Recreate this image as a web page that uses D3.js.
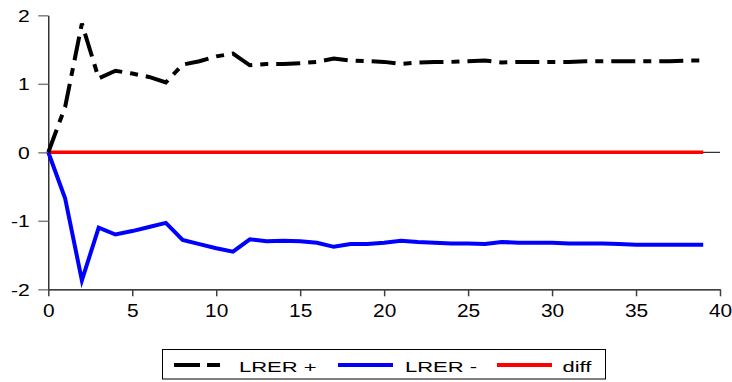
<!DOCTYPE html>
<html>
<head>
<meta charset="utf-8">
<script src="https://cdn.jsdelivr.net/npm/d3@7"></script>
<style>
  html, body { margin: 0; padding: 0; background: #fff; }
  svg { display: block; font-family: Arial, "Liberation Sans", sans-serif; }
</style>
</head>
<body>
<svg id="chart" width="732" height="382"></svg>
<script>
// ---- data ----
const periods = d3.range(0, 40);
const lrerPlus = [0, 0.66, 1.88, 1.08, 1.19, 1.15, 1.10, 1.02, 1.28, 1.33, 1.40, 1.44,
  1.27, 1.29, 1.29, 1.30, 1.32, 1.37, 1.34, 1.33, 1.32, 1.29, 1.31, 1.32,
  1.32, 1.33, 1.34, 1.31, 1.32, 1.32, 1.32, 1.32, 1.33, 1.33, 1.33, 1.33,
  1.33, 1.33, 1.34, 1.34];
const lrerMinus = [0, -0.67, -1.87, -1.10, -1.20, -1.15, -1.09, -1.03, -1.28, -1.34, -1.40, -1.45,
  -1.27, -1.30, -1.29, -1.30, -1.32, -1.38, -1.34, -1.34, -1.32, -1.29, -1.31, -1.32,
  -1.33, -1.33, -1.34, -1.31, -1.32, -1.32, -1.32, -1.33, -1.33, -1.33, -1.34, -1.35,
  -1.35, -1.35, -1.35, -1.35];
const diffVals = periods.map(() => 0);
const xTicks = [0, 5, 10, 15, 20, 25, 30, 35, 40];
const yTicks = [-2, -1, 0, 1, 2];
const seriesNames = ["LRER +", "LRER -", "diff"];
const seriesColors = ["#000000", "#0000ff", "#ff0000"];

// ---- layout ----
const svg = d3.select("#chart");
const x = d3.scaleLinear().domain([0, 40]).range([48.3, 720]);
const y = d3.scaleLinear().domain([-2, 2]).range([289.3, 15.3]);

// zero reference line
svg.append("line")
  .attr("x1", x(0)).attr("x2", x(40))
  .attr("y1", y(0)).attr("y2", y(0))
  .attr("stroke", "#000").attr("stroke-width", 1);

// y axis
const yAxis = svg.append("g")
  .attr("transform", `translate(${x(0)},0)`)
  .call(d3.axisLeft(y).tickValues(yTicks).tickSize(10).tickSizeOuter(0).tickFormat(d3.format("d")));
yAxis.select(".domain").attr("stroke", "#000").attr("stroke-width", 1.2);
yAxis.selectAll(".tick line").attr("stroke", "#808080").attr("stroke-width", 1.5);
yAxis.selectAll(".tick text")
  .attr("font-size", 16).attr("fill", "#000")
  .attr("x", null).attr("dy", null)
  .attr("text-anchor", "end")
  .attr("transform", "translate(-18.5,5.7) scale(1.32,1)")
  .text(d => d < 0 ? "-" + Math.abs(d) : d);

// x axis
const xAxis = svg.append("g")
  .attr("transform", `translate(0,${y(-2)})`)
  .call(d3.axisBottom(x).tickValues(xTicks).tickSize(7).tickSizeOuter(0).tickFormat(d3.format("d")));
xAxis.select(".domain").attr("stroke", "#000").attr("stroke-width", 1.2);
xAxis.selectAll(".tick line").attr("stroke", "#404040").attr("stroke-width", 1.5);
xAxis.selectAll(".tick text")
  .attr("font-size", 18.5).attr("fill", "#000")
  .attr("y", null).attr("dy", null)
  .attr("text-anchor", "middle")
  .attr("transform", "translate(0,27.3) scale(1.13,1)");

// lines
const line = d3.line().x((d, i) => x(periods[i])).y(d => y(d));
svg.append("path").datum(diffVals)
  .attr("fill", "none").attr("stroke", seriesColors[2]).attr("stroke-width", 3.5)
  .attr("d", line);
svg.append("path").datum(lrerMinus)
  .attr("fill", "none").attr("stroke", seriesColors[1]).attr("stroke-width", 4)
  .attr("d", line);
svg.append("path").datum(lrerPlus)
  .attr("fill", "none").attr("stroke", seriesColors[0]).attr("stroke-width", 4)
  .attr("stroke-dasharray", "24,8,8,8")
  .attr("d", line);

// legend
const legend = svg.append("g");
legend.append("rect")
  .attr("x", 162.5).attr("y", 349.5).attr("width", 443).attr("height", 29.5)
  .attr("fill", "#fff").attr("stroke", "#000").attr("stroke-width", 1);
const legItems = [
  { x0: 174, x1: 220, tx: 239, dash: "26,7,13,60" },
  { x0: 338, x1: 393, tx: 405, dash: null },
  { x0: 497, x1: 552, tx: 562.5, dash: null }
];
legItems.forEach((it, i) => {
  legend.append("text")
    .attr("transform", `translate(${it.tx},372.3) scale(1.42,1)`)
    .attr("font-size", 15.5).attr("fill", "#000")
    .text(seriesNames[i]);
  legend.append("line")
    .attr("x1", it.x0).attr("x2", it.x1).attr("y1", 365).attr("y2", 365)
    .attr("stroke", seriesColors[i]).attr("stroke-width", 4)
    .attr("stroke-dasharray", it.dash);
});
</script>
</body>
</html>
